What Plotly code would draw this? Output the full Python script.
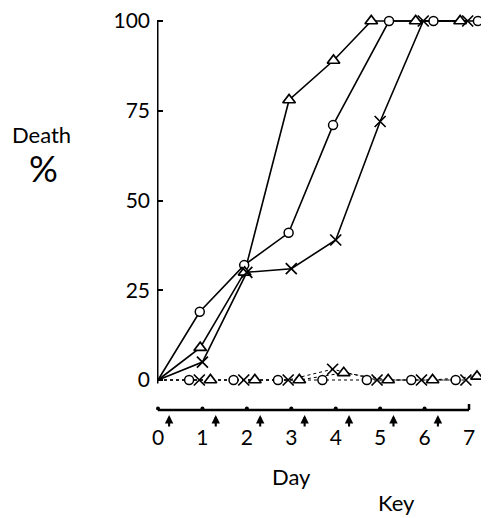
import plotly.graph_objects as go

# ---------------- data ----------------
days = [0, 1, 2, 3, 4, 5, 6, 7]
treated_circle = [0, 19, 32, 41, 71, 100, 100, 100]
treated_triangle = [0, 9, 30, 78, 89, 100, 100, 100]
treated_cross = [0, 5, 30, 31, 39, 72, 100, 100]
control_circle = [0, 0, 0, 0, 0, 0, 0, 0]
control_cross = [0, 0, 0, 0, 3, 0, 0, 0]
control_triangle = [0, 0, 0, 0, 2, 0, 0, 1]
dose_days = [0.25, 1.3, 2.3, 3.3, 4.3, 5.3, 6.3]
y_ticks = [0, 25, 50, 75, 100]
x_ticks = [0, 1, 2, 3, 4, 5, 6, 7]

# ---------------- layout / styling ----------------
W, H = 489, 518
BODY = 8                       # browser default body margin
# plot area in screen pixels
SX0, SX1, SY0, SY1 = 157, 487, 10, 450
ML, MR = SX0 - BODY, W - (SX1 - BODY)
MT, MB = SY0 - BODY, H - (SY1 - BODY)
PW, PH = SX1 - SX0, SY1 - SY0
PX_PER_DAY = 44.43
ZERO_SY = 380                  # screen y of 0 %
TOP_SY = 21                    # screen y of 100 %
PX_PER_PCT = (ZERO_SY - TOP_SY) / 100
AXIS_SY = 410                  # screen y of the day axis line
X0 = -1 / PX_PER_DAY
XR = [X0, X0 + PW / PX_PER_DAY]
Y_TOP = (ZERO_SY - SY0) / PX_PER_PCT
YR = [Y_TOP - PH / PX_PER_PCT, Y_TOP]
FONT = "Lato"

# display shifts so that coincident symbols sit side by side (as in the original)
TREATED_SHIFT = {"circle": (-0.06, 0.2), "triangle": (-0.05, -0.2), "cross": (0.0, -0.03)}
CONTROL_SHIFT = {"circle": -0.3, "cross": -0.07, "triangle": 0.18}

SYM = {
    "circle": dict(symbol="circle", size=9, color="white", line=dict(color="black", width=1.5)),
    "triangle": dict(symbol="triangle-up", size=11, color="white", line=dict(color="black", width=1.7)),
    "cross": dict(symbol="x-thin-open", size=11, color="black", line=dict(color="black", width=1.7)),
}


def treated_x(kind, vals):
    below, top = TREATED_SHIFT[kind]
    return [d if d == 0 else d + (top if v >= 100 else below) for d, v in zip(days, vals)]


def control_x(kind):
    s = CONTROL_SHIFT[kind]
    return [d if d == 0 else d + s for d in days]


def sy_val(sy):
    """screen y -> y data value"""
    return (ZERO_SY - sy) / PX_PER_PCT


def py(sy):
    """screen y -> paper y"""
    return (SY1 - sy) / PH


def px(sx):
    """screen x -> paper x"""
    return (sx - SX0) / PW


fig = go.Figure()

treated = [("circle", treated_circle), ("triangle", treated_triangle), ("cross", treated_cross)]
control = [("circle", control_circle), ("cross", control_cross), ("triangle", control_triangle)]

for kind, vals in control:
    fig.add_trace(go.Scatter(x=control_x(kind), y=vals, mode="lines",
                             line=dict(color="black", width=1, dash="3px,3px"),
                             cliponaxis=False, showlegend=False, hoverinfo="skip"))
for kind, vals in treated:
    fig.add_trace(go.Scatter(x=treated_x(kind, vals), y=vals, mode="lines",
                             line=dict(color="black", width=1.6),
                             cliponaxis=False, showlegend=False, hoverinfo="skip"))
for kind, vals in control:
    fig.add_trace(go.Scatter(x=control_x(kind)[1:], y=vals[1:], mode="markers", marker=SYM[kind],
                             cliponaxis=False, showlegend=False))
for kind, vals in treated:
    fig.add_trace(go.Scatter(x=treated_x(kind, vals)[1:], y=vals[1:], mode="markers", marker=SYM[kind],
                             cliponaxis=False, showlegend=False))

# small dots on the day axis
fig.add_trace(go.Scatter(x=x_ticks[:-1], y=[sy_val(AXIS_SY - 1.5)] * (len(x_ticks) - 1), mode="markers",
                         marker=dict(symbol="circle", size=4, color="black"),
                         cliponaxis=False, showlegend=False, hoverinfo="skip"))

shapes = [
    dict(type="line", xref="x", yref="y", x0=X0, x1=X0, y0=-1, y1=100,
         line=dict(color="black", width=3)),
    dict(type="line", xref="x", yref="y", x0=0, x1=x_ticks[-1], y0=sy_val(AXIS_SY), y1=sy_val(AXIS_SY),
         line=dict(color="black", width=2.6)),
    dict(type="line", xref="x", yref="y", x0=x_ticks[-1], x1=x_ticks[-1],
         y0=sy_val(AXIS_SY), y1=sy_val(404), line=dict(color="black", width=2.5)),
]


def label(text, sx, sy, size):
    return dict(text=text, xref="paper", yref="paper", x=px(sx), y=py(sy),
                xanchor="center", yanchor="middle", showarrow=False,
                font=dict(family=FONT, size=size, color="black"))


annotations = [
    label("Death", 42, 134, 22),
    label("%", 43, 168, 36),
    label("Day", 291, 477, 22),
    label("Key", 396, 502, 22),
]
# dosing arrows under the day axis (one per dose day)
for d in dose_days:
    annotations.append(dict(x=d, y=sy_val(415), xref="x", yref="y", text="",
                            showarrow=True, ax=0, ay=13, arrowhead=2, arrowsize=0.8,
                            arrowwidth=2.1, arrowcolor="black", standoff=0))

fig.update_layout(
    width=W, height=H,
    margin=dict(l=ML, r=MR, t=MT, b=MB, autoexpand=False),
    paper_bgcolor="white", plot_bgcolor="white",
    shapes=shapes, annotations=annotations,
    font=dict(family=FONT, size=20, color="black"),
    xaxis=dict(range=XR, tickmode="array", tickvals=x_ticks, ticktext=[str(v) for v in x_ticks],
               anchor="free", position=py(AXIS_SY), automargin=False,
               showgrid=False, zeroline=False, showline=False, ticks="",
               ticklabelstandoff=13, ticklabeloverflow="allow",
               tickfont=dict(family=FONT, size=21, color="black")),
    yaxis=dict(range=YR, tickmode="array", tickvals=y_ticks, ticktext=[str(v) for v in y_ticks],
               automargin=False, showgrid=False, zeroline=False, showline=False, ticks="inside",
               ticklen=6, tickwidth=2, tickcolor="black", ticklabeloverflow="allow",
               ticklabelstandoff=6, tickfont=dict(family=FONT, size=21, color="black")),
)

fig.write_html("out.html")
